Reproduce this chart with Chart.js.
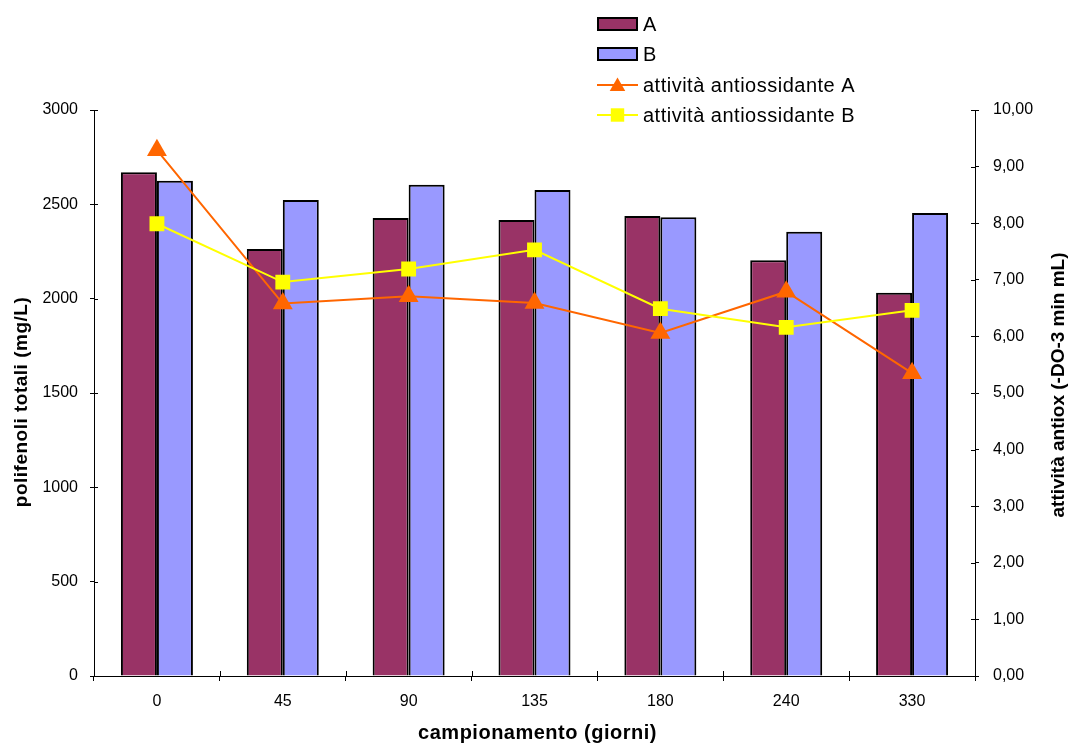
<!DOCTYPE html>
<html>
<head>
<meta charset="utf-8">
<script src="https://cdn.jsdelivr.net/npm/chart.js@4/dist/chart.umd.min.js"></script>
<style>
  html, body { margin: 0; padding: 0; background: #fff; }
  #wrap { width: 1069px; height: 744px; }
</style>
</head>
<body>
<div id="wrap"><canvas id="c" width="1069" height="744"></canvas></div>
<script>
// Sampling days
const giorni = ['0', '45', '90', '135', '180', '240', '330'];

// Total polyphenols (mg/L)
const polifenoliA = [2670, 2263, 2428, 2417, 2438, 2203, 2032];
const polifenoliB = [2625, 2523, 2604, 2576, 2431, 2355, 2454];

// Antioxidant activity (-DO-3 min mL)
const antioxA = [9.29, 6.58, 6.71, 6.59, 6.06, 6.79, 5.35];
const antioxB = [7.99, 6.96, 7.19, 7.53, 6.49, 6.16, 6.46];

// Axis ticks
const polifenoliTicks = { min: 0, max: 3000, step: 500 };
const antioxTicks = { min: 0, max: 10, step: 1 };

// Axis titles
const titoloX = 'campionamento (giorni)';
const titoloY = 'polifenoli totali (mg/L)';
const titoloY1 = 'attività antiox (-DO-3 min mL)';

const FONT = '"Liberation Sans", Arial, sans-serif';

// Short tick marks that cross each axis line (inner half)
const crossTicks = {
  id: 'crossTicks',
  afterDraw(chart) {
    const { ctx, scales: { x, y, y1 } } = chart;
    ctx.save();
    ctx.strokeStyle = '#000';
    ctx.lineWidth = 1;
    ctx.beginPath();
    y.ticks.forEach((t, i) => {
      const py = Math.round(y.getPixelForTick(i)) + 0.5;
      ctx.moveTo(y.right, py); ctx.lineTo(y.right + 4, py);
    });
    y1.ticks.forEach((t, i) => {
      const py = Math.round(y1.getPixelForTick(i)) + 0.5;
      ctx.moveTo(y1.left - 4, py); ctx.lineTo(y1.left, py);
    });
    const n = x.getLabels().length;
    const w = x.width / n;
    for (let i = 0; i <= n; i++) {
      const px = Math.round(x.left + i * w) + 0.5;
      ctx.moveTo(px, x.top - 5); ctx.lineTo(px, x.top);
    }
    ctx.stroke();
    ctx.restore();
  }
};

// Axis titles, placed around the plot area
const axisTitles = {
  id: 'axisTitles',
  afterDraw(chart) {
    const { ctx, chartArea: ca } = chart;
    ctx.save();
    ctx.fillStyle = '#000';
    ctx.textAlign = 'center';
    ctx.textBaseline = 'middle';

    ctx.font = 'bold 20px ' + FONT;
    ctx.letterSpacing = '0.5px';
    ctx.fillText(titoloX, (ca.left + ca.right) / 2 + 3, 733);

    ctx.font = 'bold 19px ' + FONT;
    ctx.letterSpacing = '0.5px';
    ctx.save();
    ctx.translate(22, (ca.top + ca.bottom) / 2 + 9);
    ctx.rotate(-Math.PI / 2);
    ctx.fillText(titoloY, 0, 0);
    ctx.restore();

    ctx.letterSpacing = '0px';
    ctx.save();
    ctx.translate(1059, (ca.top + ca.bottom) / 2 - 8);
    ctx.rotate(-Math.PI / 2);
    ctx.fillText(titoloY1, 0, 0);
    ctx.restore();

    ctx.restore();
  }
};

// Vertical legend in the upper right
const sideLegend = {
  id: 'sideLegend',
  afterDraw(chart) {
    const { ctx } = chart;
    const x0 = 597, sw = 41, sh = 14, textX = 643;
    const rowY = [24, 54, 85, 115];
    ctx.save();
    ctx.font = '20px ' + FONT;
    ctx.letterSpacing = '0.5px';
    ctx.textBaseline = 'middle';
    ctx.textAlign = 'left';
    chart.data.datasets.forEach((ds, i) => {
      const cy = rowY[i];
      if (ds.type === 'bar') {
        ctx.fillStyle = ds.backgroundColor;
        ctx.fillRect(x0, cy - sh / 2, sw, sh);
        ctx.strokeStyle = '#000';
        ctx.lineWidth = 2;
        ctx.strokeRect(x0 + 1, cy - sh / 2 + 1, sw - 2, sh - 2);
      } else {
        ctx.strokeStyle = ds.borderColor;
        ctx.lineWidth = ds.borderWidth;
        ctx.beginPath();
        ctx.moveTo(x0, cy); ctx.lineTo(x0 + sw, cy);
        ctx.stroke();
        ctx.fillStyle = ds.pointBackgroundColor;
        ctx.strokeStyle = ds.pointBorderColor;
        Chart.helpers.drawPoint(ctx, {
          pointStyle: ds.pointStyle,
          radius: ds.pointStyle === 'triangle' ? 9 : 9.5,
          borderWidth: 0,
          rotation: 0
        }, x0 + sw / 2, cy + (ds.pointStyle === 'triangle' ? 1.5 : 0));
      }
      ctx.fillStyle = '#000';
      ctx.fillText(ds.label, textX, cy + 1);
    });
    ctx.restore();
  }
};

const fmtComma = v => Number(v).toFixed(2).replace('.', ',');

new Chart(document.getElementById('c'), {
  data: {
    labels: giorni,
    datasets: [
      {
        type: 'bar', label: 'A', data: polifenoliA, yAxisID: 'y',
        backgroundColor: '#993366', borderColor: '#000', borderWidth: 2,
        categoryPercentage: 0.572, barPercentage: 1.0, order: 2
      },
      {
        type: 'bar', label: 'B', data: polifenoliB, yAxisID: 'y',
        backgroundColor: '#9999FF', borderColor: '#000', borderWidth: 2,
        categoryPercentage: 0.572, barPercentage: 1.0, order: 2
      },
      {
        type: 'line', label: 'attività antiossidante A', data: antioxA, yAxisID: 'y1',
        borderColor: '#FF6600', borderWidth: 2, tension: 0,
        pointStyle: 'triangle', pointRadius: 11.5, pointHoverRadius: 11.5,
        pointBackgroundColor: '#FF6600', pointBorderColor: '#FF6600', pointBorderWidth: 0,
        order: 1
      },
      {
        type: 'line', label: 'attività antiossidante B', data: antioxB, yAxisID: 'y1',
        borderColor: '#FFFF00', borderWidth: 2, tension: 0,
        pointStyle: 'rect', pointRadius: 10.5, pointHoverRadius: 10.5,
        pointBackgroundColor: '#FFFF00', pointBorderColor: '#FFFF00', pointBorderWidth: 0,
        order: 0
      }
    ]
  },
  options: {
    responsive: false,
    animation: false,
    devicePixelRatio: 1,
    layout: { padding: { top: 110, left: 0, right: 0, bottom: 0 } },
    plugins: {
      legend: { display: false },
      tooltip: { enabled: false }
    },
    scales: {
      x: {
        offset: true,
        grid: { display: true, offset: true, drawOnChartArea: false, drawTicks: true, tickLength: 5, color: '#000' },
        border: { display: true, color: '#000', width: 1 },
        ticks: { color: '#000', font: { family: FONT, size: 16 }, padding: 11, maxRotation: 0 },
        afterFit(s) { s.height = 68; }
      },
      y: {
        position: 'left',
        min: polifenoliTicks.min, max: polifenoliTicks.max,
        grid: { display: true, drawOnChartArea: false, drawTicks: true, tickLength: 4, color: '#000' },
        border: { display: true, color: '#000', width: 1 },
        ticks: { stepSize: polifenoliTicks.step, color: '#000', font: { family: FONT, size: 16 }, padding: 12,
                 callback: v => String(v) },
        afterFit(s) { s.width = 94; }
      },
      y1: {
        position: 'right',
        min: antioxTicks.min, max: antioxTicks.max,
        grid: { display: true, drawOnChartArea: false, drawTicks: true, tickLength: 4, color: '#000' },
        border: { display: true, color: '#000', width: 1 },
        ticks: { stepSize: antioxTicks.step, color: '#000', font: { family: FONT, size: 16 }, padding: 14,
                 callback: v => fmtComma(v) },
        afterFit(s) { s.width = 94; }
      }
    }
  },
  plugins: [crossTicks, axisTitles, sideLegend]
});
</script>
</body>
</html>
